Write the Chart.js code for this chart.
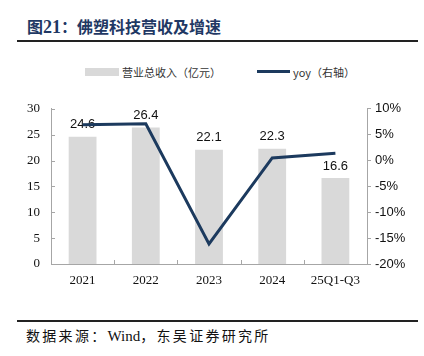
<!DOCTYPE html>
<html><head><meta charset="utf-8">
<script src="https://cdn.jsdelivr.net/npm/chart.js@4"></script>
<style>
html,body{margin:0;padding:0;background:#fff;width:424px;height:356px;overflow:hidden;position:relative;font-family:"Noto Sans CJK SC",sans-serif;}
#title{position:absolute;left:27px;top:14px;font-size:16px;font-weight:bold;color:#1F3864;white-space:nowrap;line-height:24px;font-family:"Noto Sans CJK SC";}
#title .num{font-family:"Liberation Serif",serif;font-size:18px;}
.rule{position:absolute;left:17px;width:401px;height:2px;background:#222;}
#legend{position:absolute;top:64px;left:0;width:424px;height:16px;font-size:11px;color:#333;}
.lg{position:absolute;top:0;line-height:16px;white-space:nowrap;}
#src{position:absolute;left:26px;top:325px;font-size:14px;letter-spacing:2.3px;color:#111;white-space:nowrap;line-height:20px;}
#src .w{font-family:"Liberation Serif",serif;font-size:15px;letter-spacing:0;}
#wrap{position:absolute;left:0;top:90px;width:424px;height:210px;}
</style></head>
<body>
<div id="title">图<span class="num">21</span>：佛塑科技营收及增速</div>
<div class="rule" style="top:40px"></div>
<div id="legend">
  <div style="position:absolute;left:85px;top:4px;width:34px;height:8px;background:#D9D9D9"></div>
  <div class="lg" style="left:122px">营业总收入（亿元）</div>
  <div style="position:absolute;left:257px;top:6px;width:33px;height:3px;background:#1C3A5E"></div>
  <div class="lg" style="left:293px">yoy（右轴）</div>
</div>
<div id="wrap"><canvas id="c" width="424" height="210"></canvas></div>
<div class="rule" style="top:320px"></div>
<div id="src">数据来源：<span class="w">Wind</span>，东吴证券研究所</div>
<script>
const categories = ["2021","2022","2023","2024","25Q1-Q3"];
const revenue = [24.6, 26.4, 22.1, 22.3, 16.6];
const yoy = [6.9, 7.1, -16.1, 0.5, 1.4];
const leftTicks = [0,5,10,15,20,25,30];
const rightTicks = [-20,-15,-10,-5,0,5,10];

const axisColor = '#A6A6A6';

const labelPlugin = {
  id: 'barLabels',
  afterDatasetDraw(chart, args) {
    if (args.index !== 0) return;
    const ctx = chart.ctx;
    const meta = chart.getDatasetMeta(0);
    ctx.save();
    ctx.font = '13px "Liberation Sans", Arial, sans-serif';
    ctx.fillStyle = '#111';
    ctx.textAlign = 'center';
    ctx.textBaseline = 'middle';
    meta.data.forEach((bar, i) => {
      ctx.fillText(revenue[i].toFixed(1), bar.x, bar.y - 12);
    });
    ctx.restore();
  }
};

const innerTicks = {
  id: 'innerTicks',
  afterDraw(chart) {
    const ctx = chart.ctx;
    const ca = chart.chartArea;
    const y = chart.scales.y;
    const x = chart.scales.x;
    ctx.save();
    ctx.strokeStyle = axisColor;
    ctx.lineWidth = 1;
    ctx.beginPath();
    y.ticks.forEach(t => {
      const py = Math.round(y.getPixelForValue(t.value)) + 0.5;
      ctx.moveTo(ca.left, py); ctx.lineTo(ca.left + 4, py);
    });
    for (let i = 0; i < categories.length - 1; i++) {
      const px = Math.round((x.getPixelForValue(i) + x.getPixelForValue(i + 1)) / 2) + 0.5;
      ctx.moveTo(px, ca.bottom); ctx.lineTo(px, ca.bottom - 4);
    }
    ctx.stroke();
    ctx.restore();
  }
};

new Chart(document.getElementById('c'), {
  data: {
    labels: categories,
    datasets: [
      { type: 'bar', label: '营业总收入（亿元）', data: revenue, backgroundColor: '#D9D9D9',
        yAxisID: 'y', order: 1, categoryPercentage: 1, barPercentage: 0.44 },
      { type: 'line', label: 'yoy（右轴）', data: yoy, borderColor: '#1C3A5E', borderWidth: 3,
        pointRadius: 0, tension: 0, yAxisID: 'y1', order: 0, borderCapStyle: 'butt', borderJoinStyle: 'miter' }
    ]
  },
  options: {
    responsive: false,
    animation: false,
    layout: { padding: { top: 17, left: 0, right: 0, bottom: 0 } },
    plugins: { legend: { display: false }, tooltip: { enabled: false } },
    scales: {
      x: {
        grid: { display: false, drawTicks: false },
        border: { color: axisColor },
        ticks: { padding: 9, color: '#111', font: { family: '"Liberation Serif", "Times New Roman", serif', size: 13 }, maxRotation: 0 },
        afterFit(s) { s.height = 36; }
      },
      y: {
        position: 'left', min: 0, max: 30,
        afterBuildTicks(s) { s.ticks = leftTicks.map(v => ({ value: v })); },
        grid: { display: false, drawTicks: false },
        border: { color: axisColor },
        ticks: { padding: 11, color: '#111', font: { family: '"Liberation Serif", "Times New Roman", serif', size: 13 } },
        afterFit(s) { s.width = 51; }
      },
      y1: {
        position: 'right', min: -20, max: 10,
        afterBuildTicks(s) { s.ticks = rightTicks.map(v => ({ value: v })); },
        grid: { drawOnChartArea: false, drawTicks: true, tickLength: 4, color: axisColor },
        border: { color: axisColor },
        ticks: { padding: 4, color: '#111', font: { family: '"Liberation Sans", Arial, sans-serif', size: 13 }, callback: v => v + '%' },
        afterFit(s) { s.width = 57; }
      }
    }
  },
  plugins: [labelPlugin, innerTicks]
});
</script>
</body></html>
